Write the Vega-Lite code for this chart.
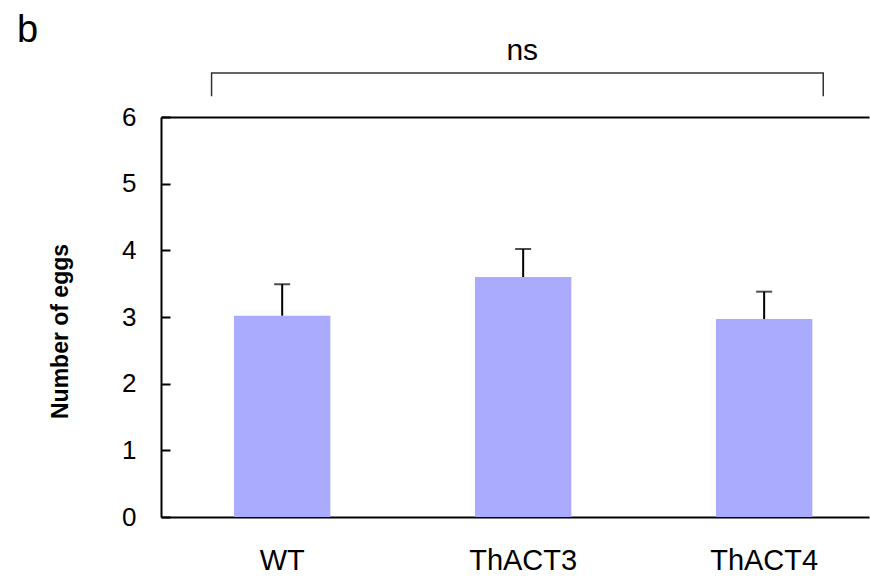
{
  "$schema": "https://vega.github.io/schema/vega-lite/v6.json",
  "autosize": "none",
  "width": 708,
  "height": 400,
  "padding": {"left": 161, "top": 117, "right": 1, "bottom": 65},
  "background": "white",
  "config": {
    "view": {"stroke": null},
    "font": "Liberation Sans"
  },
  "datasets": {
    "bars": [
      {"group": "WT", "mean": 3.02, "upper": 3.49},
      {"group": "ThACT3", "mean": 3.6, "upper": 4.02},
      {"group": "ThACT4", "mean": 2.97, "upper": 3.38}
    ],
    "bracket": [
      {"pos": -0.29, "level": 6.31, "order": 1},
      {"pos": -0.29, "level": 6.66, "order": 2},
      {"pos": 2.25, "level": 6.66, "order": 3},
      {"pos": 2.25, "level": 6.31, "order": 4}
    ],
    "labels": [
      {"pos": 1.0, "level": 6.85, "text": "ns", "kind": "sig"},
      {"pos": -1.054, "level": 7.12, "text": "b", "kind": "panel"}
    ]
  },
  "layer": [
    {
      "data": {"name": "bars"},
      "encoding": {
        "x": {
          "field": "group",
          "type": "nominal",
          "sort": ["WT", "ThACT3", "ThACT4"],
          "scale": {"paddingInner": 0.6, "paddingOuter": 0.269, "align": 0.563},
          "axis": {
            "title": null,
            "labelAngle": 0,
            "labelFontSize": 29,
            "labelColor": "black",
            "labelPadding": 29,
            "labelBaseline": "top",
            "ticks": false,
            "domainColor": "black",
            "domainWidth": 2
          }
        }
      },
      "layer": [
        {
          "mark": {"type": "bar", "color": "#aaaaff"},
          "encoding": {
            "y": {
              "field": "mean",
              "type": "quantitative",
              "scale": {"domain": [0, 6], "nice": false},
              "axis": {
                "title": "Number of eggs",
                "titleFontSize": 23,
                "titleFontWeight": "bold",
                "titleColor": "black",
                "titleX": -101,
                "titleY": 214,
                "titleBaseline": "middle",
                "values": [0, 1, 2, 3, 4, 5, 6],
                "format": "d",
                "grid": false,
                "tickSize": -9,
                "tickWidth": 2,
                "tickColor": "black",
                "labelFontSize": 26,
                "labelColor": "black",
                "labelPadding": 34,
                "domainColor": "black",
                "domainWidth": 2
              }
            }
          }
        },
        {
          "mark": {"type": "rule", "color": "black", "strokeWidth": 2},
          "encoding": {
            "y": {"field": "mean", "type": "quantitative"},
            "y2": {"field": "upper"}
          }
        },
        {
          "mark": {"type": "tick", "color": "black", "thickness": 2, "size": 16},
          "encoding": {
            "y": {"field": "upper", "type": "quantitative"}
          }
        }
      ]
    },
    {
      "data": {"name": "bracket"},
      "mark": {"type": "line", "color": "#333333", "strokeWidth": 1.5, "clip": false},
      "encoding": {
        "x": {
          "field": "pos",
          "type": "quantitative",
          "scale": {"domain": [-0.5, 2.44], "nice": false, "zero": false},
          "axis": {"orient": "top", "title": null, "labels": false, "ticks": false, "grid": false, "domainColor": "black", "domainWidth": 2}
        },
        "y": {"field": "level", "type": "quantitative"},
        "order": {"field": "order", "type": "quantitative"}
      }
    },
    {
      "data": {"name": "labels"},
      "mark": {"type": "text", "color": "black", "baseline": "alphabetic", "align": "center", "clip": false},
      "encoding": {
        "x": {
          "field": "pos",
          "type": "quantitative",
          "scale": {"domain": [-0.5, 2.44], "nice": false, "zero": false},
          "axis": null
        },
        "y": {"field": "level", "type": "quantitative"},
        "text": {"field": "text"},
        "size": {
          "field": "kind",
          "type": "nominal",
          "scale": {"domain": ["sig", "panel"], "range": [30, 38]},
          "legend": null
        }
      }
    }
  ],
  "resolve": {"scale": {"x": "independent"}}
}
